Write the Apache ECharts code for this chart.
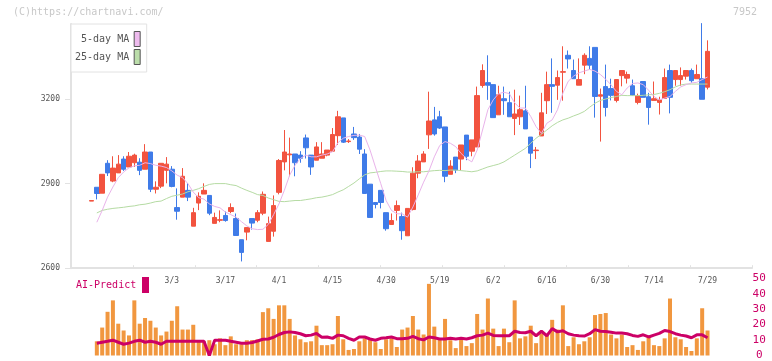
<!DOCTYPE html>
<html>
<head>
<meta charset="utf-8">
<title>7952</title>
<script src="https://cdn.jsdelivr.net/npm/echarts@6.0.0/dist/echarts.min.js"></script>
<style>
  html, body { margin: 0; padding: 0; background: #fff; }
  #myChart { width: 772px; height: 361px; }
</style>
</head>
<body>
<div id="myChart"></div>
<script>
// trading days (2025)
var dates = [
  '2/6','2/7','2/10','2/12','2/13','2/14','2/17','2/18','2/19','2/20','2/21','2/25','2/26','2/27','2/28',
  '3/3','3/4','3/5','3/6','3/7','3/10','3/11','3/12','3/13','3/14','3/17','3/18','3/19','3/21','3/24','3/25','3/26','3/27','3/28','3/31',
  '4/1','4/2','4/3','4/4','4/7','4/8','4/9','4/10','4/11','4/14','4/15','4/16','4/17','4/18','4/21','4/22','4/23','4/24','4/25','4/28','4/30',
  '5/1','5/7','5/8','5/9','5/12','5/13','5/14','5/15','5/16','5/19','5/20','5/21','5/22','5/23','5/26','5/27','5/28','5/29','5/30',
  '6/2','6/3','6/4','6/5','6/6','6/9','6/10','6/11','6/12','6/13','6/16','6/17','6/18','6/19','6/20','6/23','6/24','6/25','6/26','6/27','6/30',
  '7/1','7/2','7/3','7/4','7/7','7/8','7/9','7/10','7/11','7/14','7/15','7/16','7/17','7/18','7/22','7/23','7/24','7/25','7/28','7/29'
];
var tickDates = ['3/3','3/17','4/1','4/15','4/30','5/19','6/2','6/16','6/30','7/14','7/29'];
var priceTicks = [2600, 2900, 3200];
var predictTicks = [0, 10, 20, 30, 40, 50];

// [open, close, low, high]
var ohlc = [
  [2838,2840,2838,2840],[2887,2865,2844,2887],[2866,2933,2866,2933],[2972,2938,2927,2983],[2909,2955,2905,2997],
  [2938,2969,2938,3001],[2987,2951,2945,2997],[2959,2997,2959,3012],[2974,3001,2959,3006],[2976,2947,2930,2990],
  [2951,3012,2951,3040],[3012,2880,2870,3012],[2880,2887,2865,2908],[2891,2972,2884,2972],[2947,2969,2901,2994],
  [2951,2890,2887,2962],[2815,2802,2772,2883],[2852,2926,2852,2955],[2876,2852,2838,2901],[2749,2797,2749,2814],
  [2831,2855,2806,2869],[2863,2876,2863,2901],[2858,2795,2788,2858],[2759,2780,2759,2797],[2770,2772,2763,2805],
  [2787,2769,2765,2801],[2801,2815,2795,2830],[2776,2716,2716,2794],[2701,2656,2624,2701],[2728,2744,2699,2744],
  [2776,2760,2737,2776],[2770,2797,2763,2806],[2795,2862,2788,2872],[2695,2758,2695,2783],[2731,2822,2712,2858],
  [2869,2982,2862,2987],[2977,3012,2947,3090],[3002,3005,2926,3063],[3005,2974,2926,3005],[3001,2990,2974,3015],
  [3062,3027,2989,3074],[3001,2959,2931,3001],[2983,3030,2983,3047],[2990,3005,2990,3047],[3001,3019,2997,3019],
  [3015,3074,3015,3097],[3070,3137,3037,3158],[3133,3047,3044,3133],[3049,3051,3044,3058],[3076,3063,3055,3101],
  [3065,3022,3005,3076],[3005,2865,2865,3022],[2898,2780,2780,2898],[2833,2826,2812,2833],[2876,2833,2812,2876],
  [2797,2740,2733,2797],[2755,2769,2755,2794],[2805,2822,2769,2840],[2783,2733,2701,2797],[2715,2812,2715,2812],
  [2808,2937,2805,2958],[2937,2980,2919,3001],[2977,3005,2977,3015],[3073,3122,3023,3226],[3126,3076,3070,3172],
  [3137,3097,3094,3158],[3101,2926,2905,3101],[2933,2962,2933,2983],[2994,2948,2937,2994],[2987,3037,2948,3037],
  [3072,2997,2983,3072],[3015,3055,2997,3055],[3030,3212,3030,3244],[3248,3301,3240,3323],[3258,3249,3197,3355],
  [3251,3134,3134,3251],[3144,3215,3144,3247],[3201,3194,3144,3244],[3187,3137,3137,3226],[3131,3147,3072,3233],
  [3137,3162,3108,3212],[3158,3094,3094,3247],[3065,3008,2955,3065],[3017,3019,2987,3030],[3069,3151,3069,3222],
  [3194,3251,3147,3297],[3251,3245,3151,3344],[3249,3276,3197,3301],[3295,3297,3194,3387],[3355,3342,3308,3372],
  [3301,3272,3272,3340],[3249,3269,3249,3344],[3320,3355,3288,3362],[3344,3320,3305,3387],[3383,3209,3134,3383],
  [3210,3215,3049,3237],[3244,3170,3138,3322],[3237,3213,3195,3272],[3195,3269,3188,3269],[3283,3301,3245,3301],
  [3274,3287,3255,3297],[3247,3213,3213,3269],[3188,3212,3181,3219],[3262,3206,3206,3262],[3208,3170,3109,3222],
  [3195,3201,3195,3262],[3188,3197,3145,3208],[3202,3276,3202,3308],[3301,3206,3149,3322],[3269,3301,3247,3301],
  [3269,3283,3247,3312],[3281,3301,3269,3301],[3301,3265,3258,3308],[3272,3287,3272,3322],[3272,3199,3199,3469],
  [3242,3369,3234,3408]
];

var ma5 = [
  null,2763,2805,2852,2888,2921,2941,2956,2963,2965,2974,2971,2965,2962,2957,2945,2930,2921,2900,2870,
  2850,2845,2828,2819,2814,2799,2790,2781,2765,2750,2740,2737,2738,2755,2790,2828,2876,2930,2965,2989,
  3001,2995,2995,3001,3005,3013,3045,3061,3067,3071,3072,3067,3019,2959,2900,2840,2805,2793,2793,2781,
  2817,2860,2905,2945,2995,3035,3049,3043,3031,3007,2989,2977,3019,3090,3162,3197,3219,3224,3219,3186,
  3168,3168,3138,3102,3078,3114,3126,3162,3221,3263,3281,3293,3299,3305,3299,3287,3270,3250,3227,3215,
  3239,3255,3257,3251,3231,3209,3197,3203,3209,3227,3243,3251,3257,3259,3269,3278
];
var ma25 = [
  null,2796,2805,2809,2812,2814,2816,2819,2821,2825,2827,2831,2836,2838,2847,2855,2859,2863,2871,2876,
  2882,2890,2897,2900,2900,2900,2896,2893,2884,2876,2869,2861,2858,2849,2843,2837,2836,2838,2840,2840,
  2843,2846,2850,2852,2856,2861,2870,2878,2890,2902,2917,2931,2938,2940,2943,2945,2945,2944,2943,2941,
  2941,2942,2942,2944,2946,2947,2946,2948,2948,2946,2944,2942,2945,2952,2959,2964,2969,2977,2989,3001,
  3013,3025,3043,3061,3075,3090,3105,3117,3126,3132,3140,3147,3156,3171,3185,3195,3200,3205,3209,3213,
  3212,3212,3212,3213,3215,3216,3220,3226,3233,3243,3250,3253,3253,3253,3253,3253
];

// AI-Predict
var predictBars = [
  null,9.2,18.1,28.3,35.7,20.6,16.2,13.0,35.7,20.6,24.3,22.5,18.1,13.0,15.5,22.5,31.9,16.8,16.8,19.9,
  9.2,9.2,9.9,7.3,11.1,6.7,12.4,7.3,7.3,9.9,10.0,10.5,28.1,30.6,23.7,32.5,32.5,23.7,13.0,10.5,
  8.6,9.2,19.3,6.7,6.7,7.3,25.6,10.5,3.6,4.2,9.2,11.1,11.1,8.6,4.2,10.5,11.1,5.5,16.8,18.1,
  25.6,16.8,13.6,46.4,18.7,10.5,23.7,9.9,4.8,10.5,6.1,8.0,26.9,16.8,36.9,17.4,6.1,17.4,8.6,35.7,
  11.1,12.4,19.3,8.0,14.3,13.6,23.1,16.8,32.5,6.1,11.8,7.3,9.2,11.8,26.2,26.9,27.5,13.6,11.1,13.6,
  5.5,6.7,3.6,9.2,11.8,6.7,6.1,11.1,36.9,11.8,10.5,5.5,2.9,11.1,30.6,16.2
];
var predictLine = [
  null,8.0,8.6,9.2,9.9,8.6,7.3,8.0,9.2,9.9,8.6,9.2,8.6,7.3,9.2,9.2,9.2,9.2,9.2,9.2,
  9.2,9.2,0,9.9,9.9,9.9,9.2,8.6,8.0,8.0,8.4,9.4,10.5,10.7,11.8,13.6,14.9,15.3,14.9,14.1,
  12.8,13.2,14.3,11.8,12.0,11.1,13.2,12.8,11.1,9.9,12.0,12.0,10.7,9.9,11.1,11.5,12.0,10.9,10.9,11.1,
  12.4,10.9,10.1,12.0,11.5,10.7,10.7,11.1,10.7,11.1,10.7,11.5,12.8,13.2,14.5,13.0,12.8,12.8,12.8,15.7,
  14.9,14.7,15.7,12.8,15.7,12.8,17.4,15.3,16.0,14.1,13.2,12.8,12.6,14.1,16.8,15.7,15.5,15.1,14.5,14.5,
  14.1,13.0,12.4,13.4,12.0,13.2,14.3,16.2,15.5,14.1,13.2,12.6,11.5,13.4,13.4,11.5
];

var mono = 'DejaVu Sans Mono';
var upColor = '#f2533f';
var downColor = '#3f7be8';
var axisGray = '#e2e2e2';

var myChart = echarts.init(document.getElementById('myChart'));

var option = {
  animation: false,
  backgroundColor: '#fff',
  grid: [
    // candles
    { left: 88.8, width: 621.4, top: 24, height: 244.2 },
    // AI-Predict panel
    { left: 88.8, width: 621.4, top: 278.3, height: 79.4 },
    // axis frame
    { left: 71, width: 681, top: 24, height: 244.2 }
  ],
  legend: {
    orient: 'vertical',
    left: 71,
    top: 24,
    align: 'right',
    padding: [7, 6, 7, 4],
    itemGap: 2,
    itemWidth: 6,
    itemHeight: 15,
    backgroundColor: '#fff',
    borderColor: '#e2e2e2',
    borderWidth: 1,
    selectedMode: false,
    textStyle: { fontFamily: mono, fontSize: 10, color: '#555' },
    data: [
      { name: '5-day MA', icon: 'rect', itemStyle: { color: '#eebbee', borderColor: '#555', borderWidth: 1 } },
      { name: '25-day MA', icon: 'rect', itemStyle: { color: '#bbddaa', borderColor: '#555', borderWidth: 1 } }
    ]
  },
  graphic: [
    { type: 'text', left: 13, top: 7, style: { text: '(C)https://chartnavi.com/', fill: '#c8c8c8', font: '10px "DejaVu Sans Mono"' } },
    { type: 'text', right: 15, top: 7, style: { text: '7952', fill: '#c8c8c8', font: '10px "DejaVu Sans Mono"' } },
    { type: 'text', left: 76, top: 280, style: { text: 'AI-Predict', fill: '#cc0066', font: '10px "DejaVu Sans Mono"' } },
    { type: 'rect', shape: { x: 142, y: 277, width: 7, height: 16 }, style: { fill: '#cc0066' } }
  ],
  xAxis: [
    {
      type: 'category', gridIndex: 0, data: dates, boundaryGap: true,
      axisLine: { show: false }, axisTick: { show: false }, splitLine: { show: false },
      axisLabel: {
        interval: function (idx, val) { return tickDates.indexOf(val) >= 0; },
        hideOverlap: false, margin: 9,
        fontFamily: mono, fontSize: 8, color: '#555'
      }
    },
    { type: 'category', gridIndex: 1, data: dates, boundaryGap: true, show: false },
    {
      type: 'value', gridIndex: 2, min: 0, max: 11, interval: 1,
      axisLine: { show: true, lineStyle: { color: axisGray, width: 2 } },
      axisTick: { show: true, inside: true, length: 3, lineStyle: { color: axisGray, width: 1 } },
      axisLabel: { show: false }, splitLine: { show: false }
    }
  ],
  yAxis: [
    { type: 'value', gridIndex: 0, min: 2600, max: 3466, show: false },
    {
      type: 'value', gridIndex: 1, min: 0, max: 50, interval: 10, position: 'right',
      axisLine: { show: false }, axisTick: { show: false }, splitLine: { show: false },
      axisLabel: { customValues: predictTicks, align: 'center', margin: 49, fontFamily: mono, fontSize: 11, color: '#cc0066' }
    },
    {
      type: 'value', gridIndex: 2, min: 2600, max: 3466, interval: 300,
      axisLine: { show: true, lineStyle: { color: axisGray, width: 2 } },
      axisTick: { show: true, customValues: priceTicks, length: 6, lineStyle: { color: axisGray } },
      axisLabel: {
        customValues: priceTicks, margin: 11, fontFamily: mono, fontSize: 8, color: '#555',
        formatter: function (v) { return String(v); }
      },
      splitLine: { show: false }
    }
  ],
  series: [
    {
      name: '25-day MA', type: 'line', xAxisIndex: 0, yAxisIndex: 0, data: ma25,
      showSymbol: false, lineStyle: { color: '#b5dba3', width: 1 }, itemStyle: { color: '#bbddaa' }
    },
    {
      name: '5-day MA', type: 'line', xAxisIndex: 0, yAxisIndex: 0, data: ma5,
      showSymbol: false, lineStyle: { color: '#e9b3ea', width: 1 }, itemStyle: { color: '#eebbee' }
    },
    {
      name: 'price', type: 'candlestick', xAxisIndex: 0, yAxisIndex: 0, data: ohlc,
      barWidth: 5,
      itemStyle: { color: upColor, color0: downColor, borderColor: upColor, borderColor0: downColor, borderWidth: 1 }
    },
    {
      name: 'AI-Predict', type: 'bar', xAxisIndex: 1, yAxisIndex: 1, data: predictBars,
      barWidth: 4, itemStyle: { color: '#f1973f' }
    },
    {
      name: 'AI-Predict line', type: 'line', xAxisIndex: 1, yAxisIndex: 1, data: predictLine,
      showSymbol: false, lineStyle: { color: '#cc0066', width: 3 }, z: 3
    }
  ]
};

myChart.setOption(option);
</script>
</body>
</html>
